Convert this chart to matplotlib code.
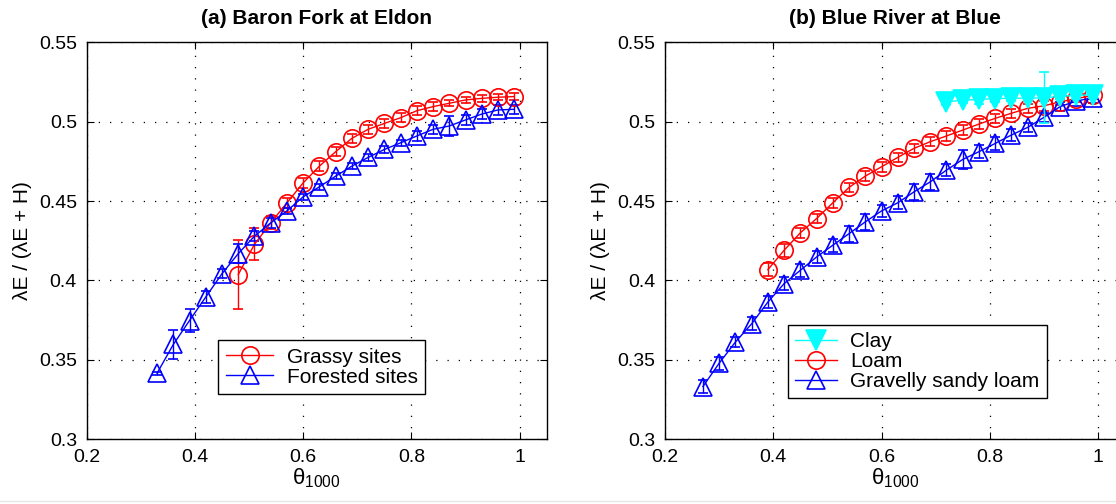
import matplotlib
matplotlib.use("Agg")
import matplotlib.pyplot as plt
from matplotlib.lines import Line2D

plt.rcParams['font.family'] = ['Liberation Sans', 'DejaVu Sans']
plt.rcParams['mathtext.fontset'] = 'custom'
plt.rcParams['mathtext.rm'] = 'Liberation Sans'
plt.rcParams['mathtext.it'] = 'Liberation Sans'

# (a) Baron Fork at Eldon
grassy_x = [0.48, 0.51, 0.54, 0.57, 0.60, 0.63, 0.66, 0.69, 0.72, 0.75,
            0.78, 0.81, 0.84, 0.87, 0.90, 0.93, 0.96, 0.99]
grassy_y = [0.4037, 0.4228, 0.4363, 0.4489, 0.4615, 0.4720, 0.4811, 0.4895, 0.4952, 0.4989,
            0.5025, 0.5069, 0.5095, 0.5116, 0.5137, 0.5147, 0.5154, 0.5158]
grassy_err = [0.0215, 0.010, 0.004, 0.003, 0.003, 0.003, 0.003, 0.003, 0.003, 0.003,
              0.003, 0.003, 0.003, 0.002, 0.002, 0.002, 0.002, 0.002]

forest_x = [0.33, 0.36, 0.39, 0.42, 0.45, 0.48, 0.51, 0.54, 0.57, 0.60, 0.63, 0.66,
            0.69, 0.72, 0.75, 0.78, 0.81, 0.84, 0.87, 0.90, 0.93, 0.96, 0.99]
forest_y = [0.3416, 0.3597, 0.3748, 0.3896, 0.4043, 0.4169, 0.4279, 0.4363, 0.4438, 0.4527,
            0.4590, 0.4657, 0.4720, 0.4775, 0.4825, 0.4867, 0.4910, 0.4952, 0.4973, 0.5011,
            0.5048, 0.5074, 0.5078]
forest_err = [0.001, 0.009, 0.007, 0.004, 0.003, 0.006, 0.003, 0.003, 0.002, 0.002,
              0.002, 0.002, 0.002, 0.002, 0.002, 0.002, 0.003, 0.003, 0.006, 0.003,
              0.003, 0.003, 0.003]

# (b) Blue River at Blue
clay_x = [0.72, 0.75, 0.78, 0.81, 0.84, 0.87, 0.90, 0.93, 0.96, 0.99]
clay_y = [0.5125, 0.5135, 0.5140, 0.5145, 0.5148, 0.5148, 0.5150, 0.5160, 0.5165, 0.5170]
clay_err = [0.002, 0.002, 0.003, 0.002, 0.002, 0.002, 0.016, 0.002, 0.002, 0.002]

loam_x = [0.39, 0.42, 0.45, 0.48, 0.51, 0.54, 0.57, 0.60, 0.63, 0.66, 0.69,
          0.72, 0.75, 0.78, 0.81, 0.84, 0.87, 0.90, 0.93, 0.96, 0.99]
loam_y = [0.4068, 0.4190, 0.4300, 0.4390, 0.4489, 0.4586, 0.4657, 0.4716, 0.4775, 0.4832,
          0.4874, 0.4910, 0.4947, 0.4985, 0.5021, 0.5053, 0.5084, 0.5100, 0.5125, 0.5145, 0.5165]
loam_err = [0.004, 0.004, 0.003, 0.003, 0.003, 0.003, 0.003, 0.003, 0.003, 0.003,
            0.003, 0.003, 0.003, 0.003, 0.003, 0.003, 0.003, 0.003, 0.002, 0.002, 0.002]

gravel_x = [0.27, 0.30, 0.33, 0.36, 0.39, 0.42, 0.45, 0.48, 0.51, 0.54, 0.57, 0.60, 0.63,
            0.66, 0.69, 0.72, 0.75, 0.78, 0.81, 0.84, 0.87, 0.90, 0.93, 0.96, 0.99]
gravel_y = [0.3332, 0.3479, 0.3612, 0.3727, 0.3864, 0.3980, 0.4064, 0.4148, 0.4222, 0.4295,
            0.4369, 0.4438, 0.4489, 0.4558, 0.4621, 0.4695, 0.4762, 0.4811, 0.4863, 0.4916,
            0.4964, 0.5027, 0.5095, 0.5130, 0.5150]
gravel_err = [0.004, 0.004, 0.003, 0.004, 0.004, 0.004, 0.004, 0.004, 0.004, 0.005,
              0.005, 0.004, 0.004, 0.005, 0.005, 0.004, 0.006, 0.004, 0.004, 0.004,
              0.003, 0.003, 0.003, 0.003, 0.003]

xticks = [0.2, 0.4, 0.6, 0.8, 1.0]
xticklabels = ['0.2', '0.4', '0.6', '0.8', '1']
yticks = [0.3, 0.35, 0.4, 0.45, 0.5, 0.55]
yticklabels = ['0.3', '0.35', '0.4', '0.45', '0.5', '0.55']

fig = plt.figure(figsize=(11.16, 5.04), dpi=100)
ax1 = fig.add_axes([0.0777, 0.1284, 0.4122, 0.7877])
ax2 = fig.add_axes([0.5959, 0.1284, 0.4122, 0.7877])


def series(ax, x, y, err, color, marker, ms, filled=False, z=3):
    mfc = color if filled else 'none'
    cont = ax.errorbar(x, y, yerr=err, color=color, ecolor=color, lw=1.0,
                       elinewidth=1.0, capsize=3.5, capthick=1.0,
                       marker=marker, ms=ms, mfc=mfc, mec=color, mew=1.2, zorder=z)
    return cont[0]


def style(ax, title):
    ax.set_xlim(0.2, 1.05)
    ax.set_ylim(0.3, 0.55)
    ax.set_xticks(xticks)
    ax.set_xticklabels(xticklabels)
    ax.set_yticks(yticks)
    ax.set_yticklabels(yticklabels)
    ax.tick_params(direction='in', top=True, right=True, labelsize=14,
                   length=5, width=0.8, pad=7)
    ax.grid(True, color='black', linestyle=(0, (1, 8)), linewidth=0.9)
    for s in ax.spines.values():
        s.set_linewidth(1.0)
    ax.set_title(title, fontsize=15, fontweight='bold', pad=13)
    ax.set_ylabel('λE / (λE + H)', fontsize=15, labelpad=5)
    ax.set_xlabel(r'$\mathregular{θ_{1000}}$', fontsize=16, labelpad=0)


def legend(ax, handles, labels, anchor, hlen):
    leg = ax.legend(handles, labels, loc='lower left', bbox_to_anchor=anchor,
                    borderaxespad=0, fontsize=15, handlelength=hlen,
                    handletextpad=0.65, labelspacing=0.05, borderpad=0.35,
                    fancybox=False, edgecolor='black', framealpha=1)
    leg.get_frame().set_linewidth(1.0)
    return leg


h_grass = series(ax1, grassy_x, grassy_y, grassy_err, 'red', 'o', 12.5)
h_forest = series(ax1, forest_x, forest_y, forest_err, 'blue', '^', 12.5)
style(ax1, '(a) Baron Fork at Eldon')
legend(ax1, [h_grass, h_forest], ['Grassy sites', 'Forested sites'], (0.286, 0.114), 2.3)

h_loam = series(ax2, loam_x, loam_y, loam_err, 'red', 'o', 12.5, z=3)
h_gravel = series(ax2, gravel_x, gravel_y, gravel_err, 'blue', '^', 12.5, z=3)
h_clay = series(ax2, clay_x, clay_y, clay_err, 'cyan', 'v', 15, filled=True, z=4)
style(ax2, '(b) Blue River at Blue')
legend(ax2, [h_clay, h_loam, h_gravel], ['Clay', 'Loam', 'Gravelly sandy loam'], (0.267, 0.103), 2.0)

fig.add_artist(Line2D([0, 1], [0.006, 0.006], color='#e6e6e6', lw=1.0))

fig.savefig('out.png', dpi=100)
